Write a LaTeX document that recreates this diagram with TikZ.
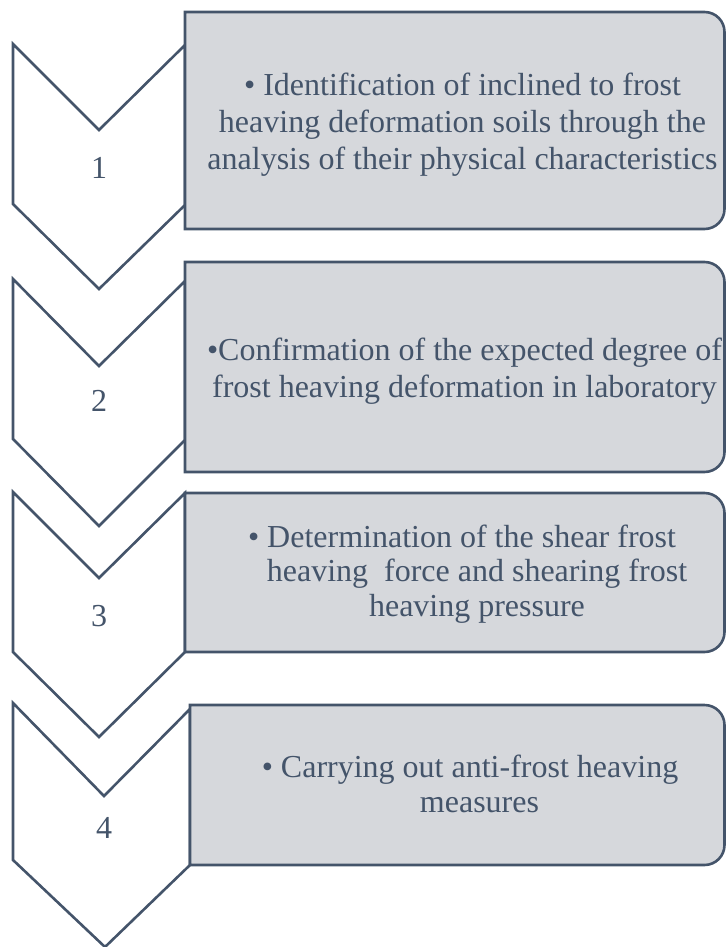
\documentclass[tikz,border=0pt]{standalone}
\usepackage{fontspec}
\setmainfont{Liberation Serif}
\definecolor{slate}{HTML}{44546A}
\definecolor{boxgray}{HTML}{D6D8DC}

\begin{document}
\begin{tikzpicture}[x=1pt,y=-1pt,
  outline/.style={draw=slate, line width=2.6pt, line join=miter},
  chevron/.style={outline, fill=white},
  stepbox/.style={outline, fill=boxgray},
  steptext/.style={text=slate, inner sep=0pt, align=center, anchor=north},
  stepnum/.style={text=slate, inner sep=0pt, anchor=base,
                  font=\fontsize{32}{37}\selectfont}]
\useasboundingbox (0,0) rectangle (726,947);

% downward chevrons
\draw[chevron] (13,44)  -- (99,130)  -- (185,45)  -- (185,205) -- (99,289)  -- (13,204)  -- cycle;
\draw[chevron] (13,279) -- (99,366)  -- (185,281) -- (185,440) -- (99,526)  -- (13,439)  -- cycle;
\draw[chevron] (13,492) -- (99,578)  -- (185,493) -- (185,652) -- (99,737)  -- (13,652)  -- cycle;
\draw[chevron] (13,703) -- (104,796) -- (190,709) -- (190,865) -- (105,947) -- (13,860)  -- cycle;

% text panels, square on the left, rounded on the right
\draw[stepbox] (185,12)  -- (704.5,12)  arc[start angle=-90, end angle=0, radius=20]
  -- (724.5,209) arc[start angle=0, end angle=90, radius=20] -- (185,229) -- cycle;
\draw[stepbox] (185,262) -- (704.5,262) arc[start angle=-90, end angle=0, radius=20]
  -- (724.5,452) arc[start angle=0, end angle=90, radius=20] -- (185,472) -- cycle;
\draw[stepbox] (185,493) -- (704.5,493) arc[start angle=-90, end angle=0, radius=20]
  -- (724.5,632) arc[start angle=0, end angle=90, radius=20] -- (185,652) -- cycle;
\draw[stepbox] (190,705) -- (704.5,705) arc[start angle=-90, end angle=0, radius=20]
  -- (724.5,845) arc[start angle=0, end angle=90, radius=20] -- (190,865) -- cycle;

% step numbers
\node[stepnum] (n1) at (99,178)  {1};
\node[stepnum] (n2) at (99,411.5) {2};
\node[stepnum] (n3) at (99,626.5) {3};
\node[stepnum] (n4) at (104,838) {4};

% step descriptions
\node[steptext, font=\fontsize{32}{37}\selectfont] (t1) at (462.5,69.1)
  {\strut• Identification of inclined to frost\\
   heaving deformation soils through the\\
   analysis of their physical characteristics};
\node[steptext, font=\fontsize{32}{37}\selectfont] (t2) at (464.5,334.1)
  {\strut•Confirmation of the expected degree of\\
   frost heaving deformation in laboratory};
\node[steptext, font=\fontsize{32}{34.3}\selectfont] (t3) at (477,523.3)
  {\strut• Determination of the shear frost\hspace*{30pt}\\
   heaving\ \ force and shearing frost\\
   heaving pressure};
\node[steptext, font=\fontsize{32}{35}\selectfont] (t4) at (479.5,752.5)
  {\strut• Carrying out anti-frost heaving\hspace*{19pt}\\
   measures};
\end{tikzpicture}
\end{document}
